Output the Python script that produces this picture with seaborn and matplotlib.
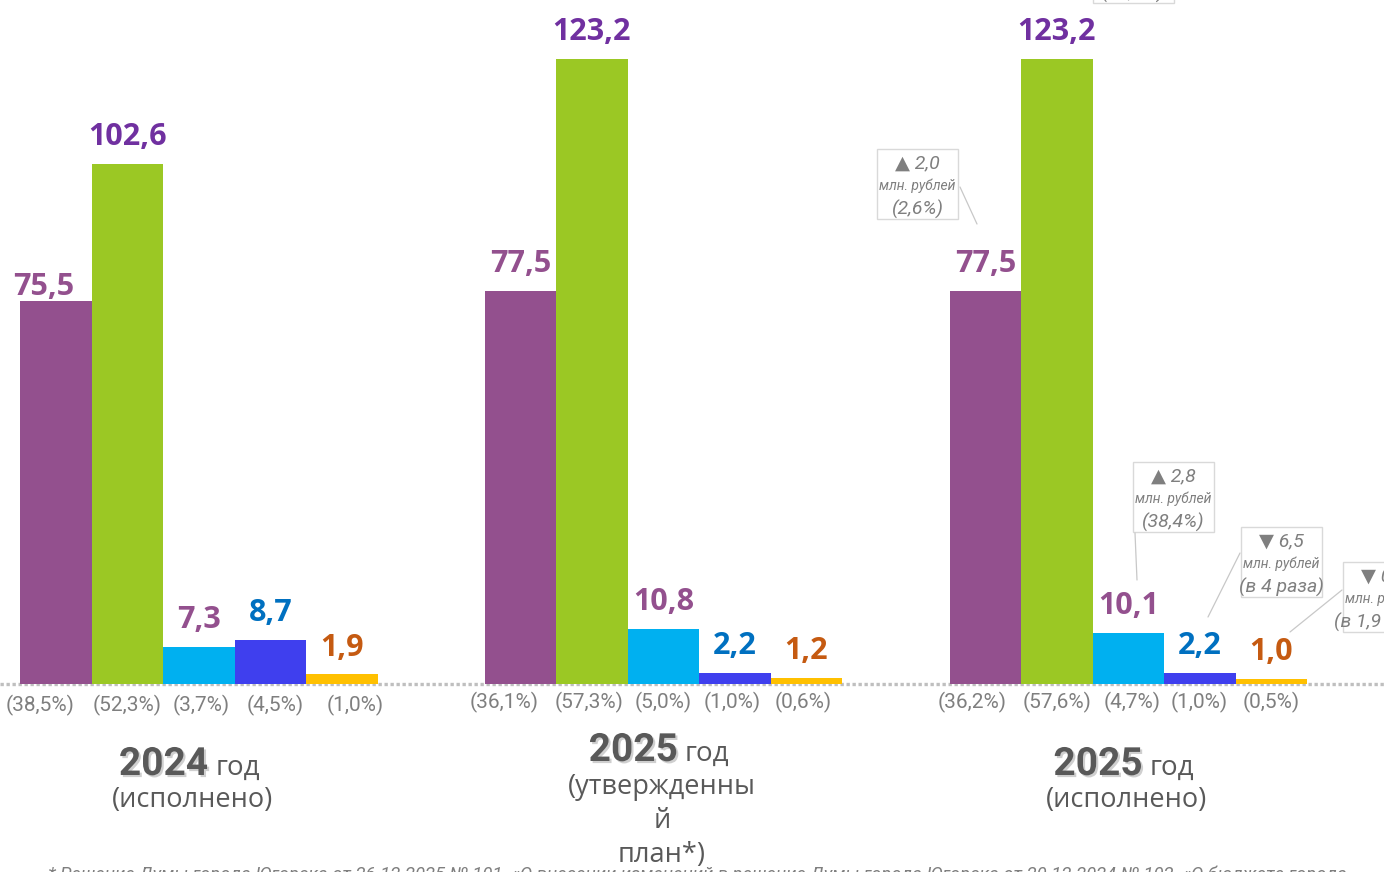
import matplotlib
matplotlib.use("Agg")
import matplotlib.pyplot as plt
from matplotlib import patheffects as pe
from matplotlib.patches import Rectangle
from matplotlib.lines import Line2D
import pandas as pd
import seaborn as sns

# ---------------- data ----------------
categories = ["Категория 1", "Категория 2", "Категория 3", "Категория 4", "Категория 5"]
period_years = ["2024", "2025", "2025"]
period_notes = ["(исполнено)", "(утвержденны\nй\nплан*)", "(исполнено)"]

values_2024_fact = [75.5, 102.6, 7.3, 8.7, 1.9]
values_2025_plan = [77.5, 123.2, 10.8, 2.2, 1.2]
values_2025_fact = [77.5, 123.2, 10.1, 2.2, 1.0]

shares_2024_fact = ["(38,5%)", "(52,3%)", "(3,7%)", "(4,5%)", "(1,0%)"]
shares_2025_plan = ["(36,1%)", "(57,3%)", "(5,0%)", "(1,0%)", "(0,6%)"]
shares_2025_fact = ["(36,2%)", "(57,6%)", "(4,7%)", "(1,0%)", "(0,5%)"]

change_signs = ["▲", "▲", "▲", "▼", "▼"]
change_amounts = ["2,0", "20,6", "2,8", "6,5", "0,9"]
change_relative = ["(2,6%)", "(20,1%)", "(38,4%)", "(в 4 раза)", "(в 1,9 раза)"]
change_unit = "млн. рублей"

footnote = ("* Решение Думы города Югорска от 26.12.2025 № 101  «О внесении изменений в решение "
            "Думы города Югорска от 20.12.2024 № 102  «О бюджете города")

# ---------------- style ----------------
W, H = 1384, 872
bar_colors = ["#93508E", "#9BC824", "#00B0F0", "#3F3FEE", "#FFC000"]
label_colors = ["#93508E", "#7030A0", "#93508E", "#0070C0", "#C55A11"]
GROUP_STEP = 6.5
PX_PER_X = 71.5
LEFT_PX = 20
BASE_PX = 684
TOP_PX = 59  # top of max bar
share_dx_px = [[-16, 0, 2, 5, 13], [-16, -3, 0, -3, -3], [-13, 0, 4, -1, 0]]

sns.set_theme(style="white")
plt.rcParams["font.family"] = ["Open Sans", "DejaVu Sans"]
NARROW = ["Roboto", "DejaVu Sans"]
BOLD = ["Open Sans", "DejaVu Sans"]

rows = []
all_values = [values_2024_fact, values_2025_plan, values_2025_fact]
all_shares = [shares_2024_fact, shares_2025_plan, shares_2025_fact]
for g, (vals, shs) in enumerate(zip(all_values, all_shares)):
    for i, (cat, v, s) in enumerate(zip(categories, vals, shs)):
        rows.append({"group": g, "idx": i, "cat": cat, "pos": g * GROUP_STEP + i,
                     "value": v, "share": s})
df = pd.DataFrame(rows)

fig = plt.figure(figsize=(W / 100, H / 100), dpi=100)
ax = fig.add_axes([0, 0, 1, 1])

sns.barplot(data=df, x="pos", y="value", hue="cat", palette=bar_colors,
            native_scale=True, width=1.0, dodge=False, legend=False,
            saturation=1, linewidth=0, ax=ax, zorder=3)

vmax = max(max(v) for v in all_values)
px_per_y = (BASE_PX - TOP_PX) / vmax
x0 = -0.5 - LEFT_PX / PX_PER_X
ax.set_xlim(x0, x0 + W / PX_PER_X)
ax.set_ylim(-(H - BASE_PX) / px_per_y, BASE_PX / px_per_y)
ax.set_axis_off()

# dotted baseline
ax.axhline(0, color="#BFBFBF", lw=2.4, linestyle=(0, (1, 0.8)), zorder=1)

PT = 0.72  # px -> pt

# value labels
for _, r in df.iterrows():
    dx, dy = 0, 13.5
    if r["group"] == 0 and r["idx"] == 0:
        dx, dy = -8.5, 4
    ax.annotate(f"{r['value']:.1f}".replace(".", ","), xy=(r["pos"], r["value"]),
                xytext=(dx, dy), textcoords="offset points", ha="center", va="baseline",
                fontsize=22, fontweight="bold", family=BOLD,
                color=label_colors[r["idx"]], zorder=5)

# share labels
for _, r in df.iterrows():
    dy = -21 if r["group"] == 0 else -18
    dx = share_dx_px[r["group"]][r["idx"]]
    ax.annotate(r["share"], xy=(r["pos"], 0), xytext=(dx * PT, dy * PT),
                textcoords="offset points", ha="center", va="center",
                fontsize=15, family=NARROW, color="#7F7F7F")

# group labels
xt = ax.get_xaxis_transform()
fy = lambda y: 1 - y / H
year_base = [775, 761, 775]
note_top = [786, 773, 786]
group_dx = [-6.5, -1.5, -1.5]
for g in range(3):
    cx = g * GROUP_STEP + 2
    ax.annotate(period_years[g], xy=(cx, fy(year_base[g])), xycoords=xt,
                xytext=((group_dx[g] + 16) * PT, 0), textcoords="offset points",
                ha="right", va="baseline", fontsize=28, fontweight="bold", family=NARROW,
                color="#595959",
                path_effects=[pe.withSimplePatchShadow(offset=(1.5, -1.5),
                                                       shadow_rgbFace="#A0A0A0", alpha=0.5)])
    ax.annotate("год", xy=(cx, fy(year_base[g])), xycoords=xt,
                xytext=((group_dx[g] + 23) * PT, 0), textcoords="offset points",
                ha="left", va="baseline", fontsize=20, color="#595959")
    ax.annotate(period_notes[g], xy=(cx, fy(note_top[g])), xycoords=xt,
                xytext=(group_dx[g] * PT, 0), textcoords="offset points",
                ha="center", va="top", fontsize=19.5, color="#595959", linespacing=1.28)

# change call-outs (pixel layout)
boxes = [(877, 149), (1093, -67), (1133, 462), (1241, 527), (1343, 562)]
leaders = [((960, 187), (977, 224)), None, ((1135, 533), (1137, 580)),
           ((1240, 553), (1208, 617)), ((1342, 590), (1290, 632))]
BW, BH = 81, 70
ta = ax.transAxes
for k in range(5):
    bx, by = boxes[k]
    ax.add_patch(Rectangle((bx / W, fy(by + BH)), BW / W, BH / H, transform=ta,
                           facecolor="white", edgecolor="#D9D9D9", lw=1.0, zorder=6,
                           clip_on=False))
    cx = (bx + BW / 2) / W
    ax.text(cx, fy(by + 14), f"{change_signs[k]} {change_amounts[k]}", transform=ta,
            ha="center", va="center", fontsize=14, style="italic", family=NARROW,
            color="#7F7F7F", zorder=7)
    ax.text(cx, fy(by + 37), change_unit, transform=ta, ha="center", va="center",
            fontsize=10, style="italic", family=NARROW, color="#7F7F7F", zorder=7)
    ax.text(cx, fy(by + 60), change_relative[k], transform=ta, ha="center", va="center",
            fontsize=14, style="italic", family=NARROW, color="#7F7F7F", zorder=7)
    if leaders[k] is not None:
        (ax1, ay1), (ax2, ay2) = leaders[k]
        ax.add_line(Line2D([ax1 / W, ax2 / W], [fy(ay1), fy(ay2)], transform=ta,
                           color="#C8C8C8", lw=0.9, zorder=6))

# footnote
ax.text(48 / W, fy(865), footnote, transform=ta, ha="left", va="top", fontsize=13.2,
        style="italic", family=["Roboto", "DejaVu Sans"], color="#7F7F7F", zorder=2)

fig.savefig("out.png", dpi=100)
